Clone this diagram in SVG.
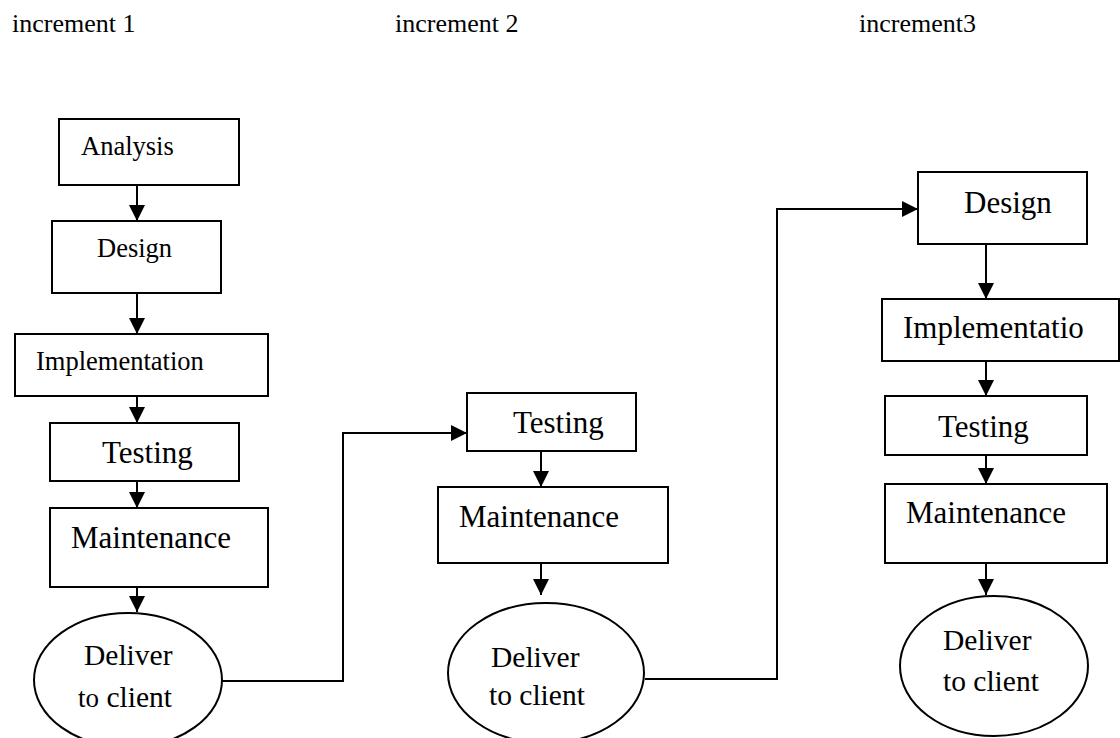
<svg xmlns="http://www.w3.org/2000/svg" width="1120" height="738" viewBox="0 0 1120 738">
<style>
text{font-family:"Liberation Serif","Times New Roman",serif;fill:#000}
.h{font-size:26px}
.s{font-size:26.5px}
.l{font-size:31px}
.d{font-size:29.5px}
.box{fill:#fff;stroke:#000;stroke-width:2}
.conn{fill:none;stroke:#000;stroke-width:2}
</style>
<defs>
<marker id="ah" markerUnits="userSpaceOnUse" markerWidth="16" markerHeight="16" refX="16" refY="8" orient="auto">
<path d="M0,0 L16,8 L0,16 z" fill="#000"/>
</marker>
</defs>
<rect width="1120" height="738" fill="#fff"/>
<g id="headers">
<text class="h" x="12" y="32">increment 1</text>
<text class="h" x="395" y="32">increment 2</text>
<text class="h" x="859" y="32">increment3</text>
</g>
<g id="connectors">
<path class="conn" d="M137,185 V221" marker-end="url(#ah)"/>
<path class="conn" d="M137,293 V334" marker-end="url(#ah)"/>
<path class="conn" d="M137,396 V423" marker-end="url(#ah)"/>
<path class="conn" d="M137,481 V508" marker-end="url(#ah)"/>
<path class="conn" d="M137,587 V612" marker-end="url(#ah)"/>
<path class="conn" d="M221,681 H343 V433 H467" marker-end="url(#ah)"/>
<path class="conn" d="M541,451 V487" marker-end="url(#ah)"/>
<path class="conn" d="M541,563 V595" marker-end="url(#ah)"/>
<path class="conn" d="M645,679 H777 V209 H918" marker-end="url(#ah)"/>
<path class="conn" d="M986,244 V299" marker-end="url(#ah)"/>
<path class="conn" d="M986,361 V396" marker-end="url(#ah)"/>
<path class="conn" d="M986,455 V484" marker-end="url(#ah)"/>
<path class="conn" d="M986,563 V595" marker-end="url(#ah)"/>
</g>
<g id="analysis1"><rect class="box" x="59" y="119" width="180" height="66"/><text class="s" x="81" y="155">Analysis</text></g>
<g id="design1"><rect class="box" x="52" y="221" width="169" height="72"/><text class="s" x="97" y="257">Design</text></g>
<g id="implementation1"><rect class="box" x="15" y="334" width="253" height="62"/><text class="s" x="36" y="370">Implementation</text></g>
<g id="testing1"><rect class="box" x="50" y="423" width="189" height="58"/><text class="l" x="102" y="463">Testing</text></g>
<g id="maintenance1"><rect class="box" x="50" y="508" width="218" height="79"/><text class="l" x="71" y="548">Maintenance</text></g>
<g id="deliver1"><ellipse class="box" cx="128" cy="680" rx="94" ry="67"/><text class="d" x="84" y="665">Deliver</text><text class="d" x="78" y="707"><tspan font-size="27px">to</tspan> client</text></g>
<g id="testing2"><rect class="box" x="467" y="393" width="169" height="58"/><text class="l" x="513" y="433">Testing</text></g>
<g id="maintenance2"><rect class="box" x="438" y="487" width="230" height="76"/><text class="l" x="459" y="527">Maintenance</text></g>
<g id="deliver2"><ellipse class="box" cx="546" cy="673" rx="98" ry="70"/><text class="d" x="491" y="667">Deliver</text><text class="d" x="489" y="705">to client</text></g>
<g id="design3"><rect class="box" x="918" y="172" width="169" height="72"/><text class="l" x="964" y="213">Design</text></g>
<g id="implementation3"><rect class="box" x="882" y="299" width="237" height="62"/><text class="l" x="903" y="338">Implementatio</text></g>
<g id="testing3"><rect class="box" x="885" y="396" width="202" height="59"/><text class="l" x="938" y="437">Testing</text></g>
<g id="maintenance3"><rect class="box" x="885" y="484" width="222" height="79"/><text class="l" x="906" y="523">Maintenance</text></g>
<g id="deliver3"><ellipse class="box" cx="994" cy="666" rx="94" ry="70"/><text class="d" x="943" y="650">Deliver</text><text class="d" x="943" y="691">to client</text></g>
</svg>
